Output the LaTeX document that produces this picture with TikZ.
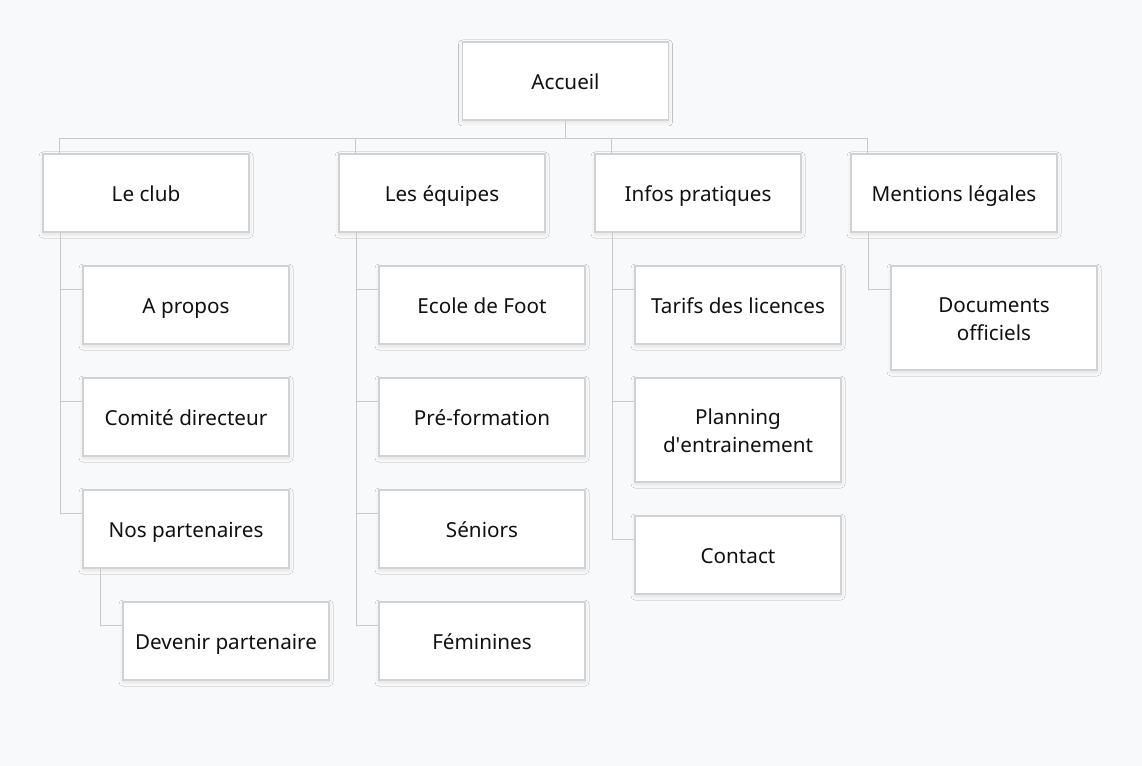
\documentclass[tikz,border=0pt]{standalone}
\usepackage{fontspec}
\usepackage{tikz}
\usepackage{xcolor}
\usetikzlibrary{calc,shadows.blur}
\setmainfont{Noto Sans}
\definecolor{page_bg}{HTML}{F8F9FB}
\definecolor{box_border}{HTML}{D2D2D2}
\definecolor{link_gray}{HTML}{C9C9C9}
\definecolor{label_text}{HTML}{111111}
\tikzset{
    page/.style={fill=page_bg,draw=none},
    box/.style={draw=box_border,line width=1pt,fill=white,inner sep=0pt,
        minimum width=154.5pt,minimum height=58.5pt,align=center,
        text height=15pt,text depth=2pt,
        text=label_text,font=\fontsize{15.5}{21}\selectfont,
        blur shadow={shadow xshift=0pt,shadow yshift=-1.5pt,
            shadow blur radius=3pt,shadow blur steps=6,shadow opacity=10}},
    tallbox/.style={box,minimum height=78pt,text height=36pt},
    link/.style={draw=link_gray,line width=1pt},
}

\begin{document}
\begin{tikzpicture}[x=0.75pt,y=-0.75pt]
  \path[page,use as bounding box] (0,0) rectangle (1142,766);
  % Top level
  \node[box] (accueil) at (565.5,81) {Accueil};
  % Sections
  \node[box] (club) at (146,193) {Le club};
  \node[box] (equipes) at (442,193) {Les équipes};
  \node[box] (infos) at (698,193) {Infos pratiques};
  \node[box] (mentions) at (954,193) {Mentions légales};
  % Pages of "Le club"
  \node[box] (apropos) at (186,305) {A propos};
  \node[box] (comite) at (186,417) {Comité directeur};
  \node[box] (partenaires) at (186,529) {Nos partenaires};
  \node[box] (devenir) at (226,641) {Devenir partenaire};
  % Pages of "Les équipes"
  \node[box] (ecole) at (482,305) {Ecole de Foot};
  \node[box] (preformation) at (482,417) {Pré-formation};
  \node[box] (seniors) at (482,529) {Séniors};
  \node[box] (feminines) at (482,641) {Féminines};
  % Pages of "Infos pratiques"
  \node[box] (tarifs) at (738,305) {Tarifs des licences};
  \node[tallbox] (planning) at (738,430) {Planning\\d\textquotesingle entrainement};
  \node[box] (contact) at (738,555) {Contact};
  % Pages of "Mentions légales"
  \node[tallbox] (documents) at (994,318) {Documents\\officiels};
  % Draw links from the top level
  \draw[link] (accueil.south) -- ++(0,18) coordinate (bus);
  \draw[link] (bus) -| ([xshift=12.75pt]club.north west);
  \draw[link] (bus) -| ([xshift=12.75pt]equipes.north west);
  \draw[link] (bus) -| ([xshift=12.75pt]infos.north west);
  \draw[link] (bus) -| ([xshift=12.75pt]mentions.north west);
  % Draw links to the pages
  \draw[link] ([xshift=13.5pt]club.south west) |- ([yshift=-18pt]apropos.north west);
  \draw[link] ([xshift=13.5pt]club.south west) |- ([yshift=-18pt]comite.north west);
  \draw[link] ([xshift=13.5pt]club.south west) |- ([yshift=-18pt]partenaires.north west);
  \draw[link] ([xshift=13.5pt]partenaires.south west) |- ([yshift=-18pt]devenir.north west);
  \draw[link] ([xshift=13.5pt]equipes.south west) |- ([yshift=-18pt]ecole.north west);
  \draw[link] ([xshift=13.5pt]equipes.south west) |- ([yshift=-18pt]preformation.north west);
  \draw[link] ([xshift=13.5pt]equipes.south west) |- ([yshift=-18pt]seniors.north west);
  \draw[link] ([xshift=13.5pt]equipes.south west) |- ([yshift=-18pt]feminines.north west);
  \draw[link] ([xshift=13.5pt]infos.south west) |- ([yshift=-18pt]tarifs.north west);
  \draw[link] ([xshift=13.5pt]infos.south west) |- ([yshift=-18pt]planning.north west);
  \draw[link] ([xshift=13.5pt]infos.south west) |- ([yshift=-18pt]contact.north west);
  \draw[link] ([xshift=13.5pt]mentions.south west) |- ([yshift=-18pt]documents.north west);
\end{tikzpicture}
\end{document}
